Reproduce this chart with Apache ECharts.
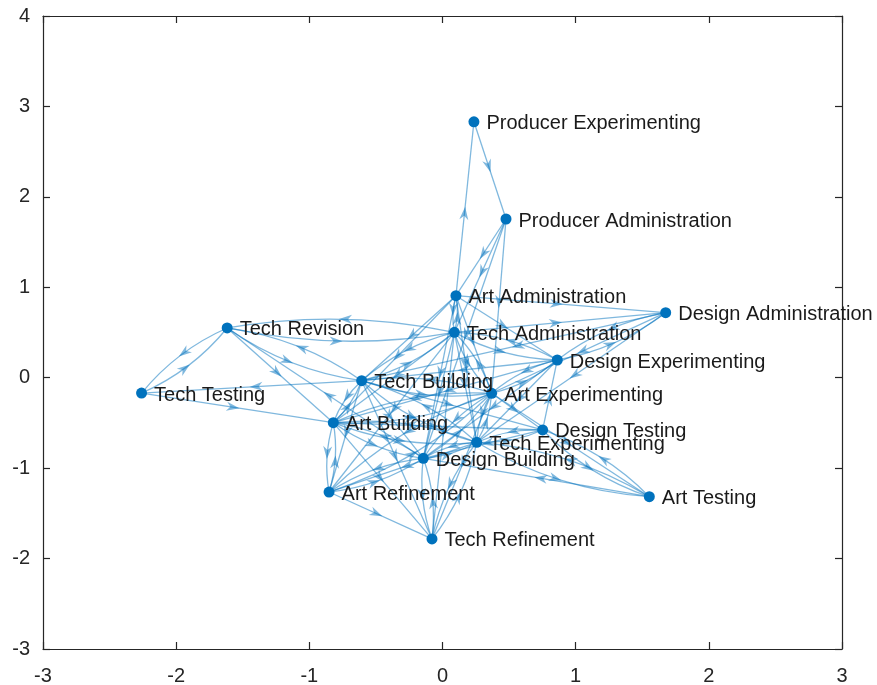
<!DOCTYPE html>
<html>
<head>
<meta charset="utf-8">
<script src="https://cdn.jsdelivr.net/npm/echarts@6/dist/echarts.min.js"></script>
<style>
html,body{margin:0;padding:0;background:#fff;}
#chart{width:877px;height:685px;}
</style>
</head>
<body>
<div id="chart"></div>
<script>
// ---- data ----
const nodeCodes = ['PE','PA','AA','TA','DA','TR','DE','TT','TB','AE','AB','DT','TE','DB','AR','AT','TF'];
const nodeNames = ['Producer Experimenting','Producer Administration','Art Administration','Tech Administration',
  'Design Administration','Tech Revision','Design Experimenting','Tech Testing','Tech Building',
  'Art Experimenting','Art Building','Design Testing','Tech Experimenting','Design Building',
  'Art Refinement','Art Testing','Tech Refinement'];
const nodeX = [0.236, 0.477, 0.101, 0.089, 1.676, -1.617, 0.862, -2.26, -0.607, 0.369, -0.820, 0.752, 0.257, -0.144, -0.852, 1.553, -0.079];
const nodeY = [2.83, 1.755, 0.907, 0.502, 0.719, 0.55, 0.196, -0.17, -0.033, -0.172, -0.497, -0.578, -0.714, -0.891, -1.264, -1.316, -1.783];
const edgeList = [
  'PE>PA','AA>PE','PA>AA','PA>TA','PA>AE','PA>DB',
  'AA>TA','TA>AA','AA>DA','TA>DA','DA>DE','DE>DA','DA>AE','DA>TE','DA>TB',
  'TA>DE','DE>TA','AA>DE',
  'TR>TT','TT>TR','TB>TT','TT>AB','TR>TB','TB>TR','TR>TA','TA>TR','TR>AB','DB>TR',
  'TA>TB','TB>TA','TA>AB','AA>TB','AA>AB','TA>DB','TA>TF','TA>AR','AA>TE',
  'TA>AE','AE>TA','AA>AE','TA>TE','AA>DB',
  'DE>AE','AE>DE','DE>TE','DE>TB','DE>AB','DE>DB','DT>DE',
  'AE>TB','TB>AE','AE>AB','AB>AE','AE>DB','DB>AE','AE>TE','TE>AE','AE>DT','AE>AT','AE>AR','AE>TF',
  'TB>AB','AB>TB','TB>DB','TB>TE','TE>TB','TB>AR','TB>DT','TB>TF',
  'AB>TE','TE>AB','AB>DB','DB>AB','AB>AR','AR>AB','AB>TF','AB>DT',
  'DT>TE','TE>DT','DT>AT','AT>DT','DT>DB',
  'TE>AT','AT>TE','AT>DB','TE>DB','DB>TE','TE>TF','TF>TE','TE>AR',
  'DB>TF','TF>DB','DB>AR','AR>DB','AR>TF','AR>AE'
];
const xTicks = [-3, -2, -1, 0, 1, 2, 3];
const yTicks = [-3, -2, -1, 0, 1, 2, 3, 4];

// ---- build ----
const idx = {};
nodeCodes.forEach((c, i) => idx[c] = i);
const edgeSet = new Set(edgeList);
const edgeData = edgeList.map(e => {
  const [a, b] = e.split('>');
  const curved = edgeSet.has(b + '>' + a) ? 1 : 0;
  return [nodeX[idx[a]], nodeY[idx[a]], nodeX[idx[b]], nodeY[idx[b]], curved];
});
const nodeData = nodeNames.map((n, i) => [nodeX[i], nodeY[i], n]);

const edgeColor = 'rgba(0,114,189,0.5)';
const axisColor = '#262626';
const fontFam = '"Liberation Sans", Arial, sans-serif';

function renderEdge(params, api) {
  const s = api.coord([api.value(0), api.value(1)]);
  const t = api.coord([api.value(2), api.value(3)]);
  const curved = api.value(4);
  const dx = t[0] - s[0], dy = t[1] - s[1];
  const len = Math.hypot(dx, dy) || 1;
  const ux = dx / len, uy = dy / len;
  const nx = -uy, ny = ux;
  const h = curved ? Math.min(0.12 * len, 22) : 0;
  const cx = (s[0] + t[0]) / 2 + nx * h;
  const cy = (s[1] + t[1]) / 2 + ny * h;
  const mx = 0.25 * s[0] + 0.5 * cx + 0.25 * t[0];
  const my = 0.25 * s[1] + 0.5 * cy + 0.25 * t[1];
  const L = 13, W = 9;
  const tipx = mx + ux * 2, tipy = my + uy * 2;
  const bx = tipx - ux * L, by = tipy - uy * L;
  const pts = [
    [tipx, tipy],
    [bx + nx * W / 2, by + ny * W / 2],
    [tipx - ux * L * 0.7, tipy - uy * L * 0.7],
    [bx - nx * W / 2, by - ny * W / 2]
  ];
  const children = [];
  if (curved) {
    children.push({type: 'bezierCurve', shape: {x1: s[0], y1: s[1], x2: t[0], y2: t[1], cpx1: cx, cpy1: cy},
      style: {stroke: edgeColor, fill: null, lineWidth: 1.3}});
  } else {
    children.push({type: 'line', shape: {x1: s[0], y1: s[1], x2: t[0], y2: t[1]},
      style: {stroke: edgeColor, lineWidth: 1.3}});
  }
  children.push({type: 'polygon', shape: {points: pts}, style: {fill: edgeColor}});
  return {type: 'group', children: children};
}

const baseAxis = {
  type: 'value',
  axisLine: {show: true, onZero: false, lineStyle: {color: axisColor, width: 1.2}},
  axisTick: {show: true, inside: true, length: 7, lineStyle: {color: axisColor, width: 1.2}},
  splitLine: {show: false}
};

const chart = echarts.init(document.getElementById('chart'), null, {renderer: 'canvas'});
chart.setOption({
  animation: false,
  backgroundColor: '#ffffff',
  grid: {left: 43, right: 35, top: 16, bottom: 36, containLabel: false, outerBoundsMode: 'none'},
  xAxis: [
    Object.assign({}, baseAxis, {min: xTicks[0], max: xTicks[xTicks.length - 1], interval: 1, position: 'bottom',
      axisLabel: {show: true, margin: 17, fontSize: 20, color: axisColor, fontFamily: fontFam}}),
    Object.assign({}, baseAxis, {min: xTicks[0], max: xTicks[xTicks.length - 1], interval: 1, position: 'top',
      axisLabel: {show: false}})
  ],
  yAxis: [
    Object.assign({}, baseAxis, {min: yTicks[0], max: yTicks[yTicks.length - 1], interval: 1, position: 'left',
      axisLabel: {show: true, margin: 13, fontSize: 20, color: axisColor, fontFamily: fontFam}}),
    Object.assign({}, baseAxis, {min: yTicks[0], max: yTicks[yTicks.length - 1], interval: 1, position: 'right',
      axisLabel: {show: false}})
  ],
  series: [
    {
      type: 'custom',
      xAxisIndex: 0, yAxisIndex: 0,
      renderItem: renderEdge,
      data: edgeData,
      encode: {x: [0, 2], y: [1, 3]},
      clip: false,
      silent: true,
      z: 1
    },
    {
      type: 'scatter',
      xAxisIndex: 0, yAxisIndex: 0,
      data: nodeData,
      symbol: 'circle',
      symbolSize: 11,
      itemStyle: {color: '#0072BD', opacity: 1},
      label: {
        show: true, position: 'right', distance: 7, offset: [0, 2],
        formatter: p => p.value[2],
        fontSize: 20, color: '#1a1a1a', fontFamily: fontFam
      },
      silent: true,
      z: 3
    }
  ]
});
</script>
</body>
</html>
